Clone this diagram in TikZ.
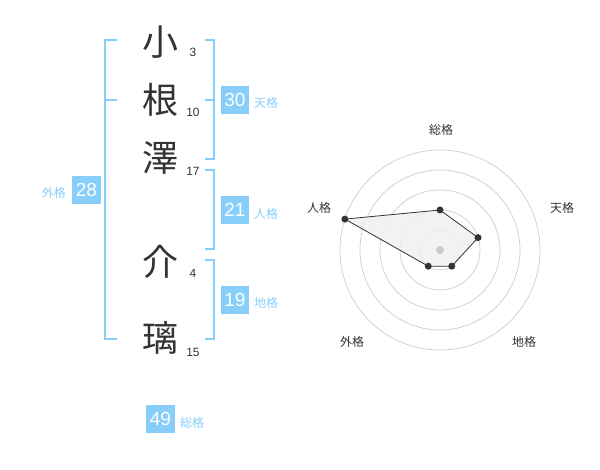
\documentclass[tikz,border=0pt]{standalone}
\usepackage{fontspec}
\setmainfont{Liberation Sans}
\newfontfamily\jp{Noto Sans CJK JP}
\usetikzlibrary{calc}
\definecolor{sky}{HTML}{87CEFA}
\definecolor{ink}{HTML}{333333}
\definecolor{ring}{HTML}{CCCCCC}
\definecolor{area}{HTML}{F0F0F0}
\begin{document}
\begin{tikzpicture}[x=1pt,y=-1pt,
  kanji/.style={font=\jp\fontsize{36}{36}\selectfont, text=ink, inner sep=0pt},
  stroke/.style={font=\fontsize{12}{12}\selectfont, text=ink, inner sep=0pt},
  numbox/.style={fill=sky, text=white, minimum width=28.5pt, minimum height=28.5pt, inner sep=0pt, font=\fontsize{19}{19}\selectfont},
  kaku/.style={font=\jp\fontsize{12}{12}\selectfont, text=sky, inner sep=0pt},
  bracket/.style={draw=sky, line width=2pt},
  rlabel/.style={font=\jp\fontsize{12}{12}\selectfont, text=ink, inner sep=0pt},
  dot/.style={circle, fill=ink, inner sep=0pt, minimum size=7pt}]
\useasboundingbox (0,0) rectangle (600,470);
% characters
\node[kanji] (k1) at (160,42) {小};
\node[kanji] (k2) at (160,100) {根};
\node[kanji] (k3) at (160,158) {澤};
\node[kanji] (k4) at (160,262) {介};
\node[kanji] (k5) at (160,338) {璃};
\node[stroke] (s1) at (193,52) {3};
\node[stroke] (s2) at (193,112) {10};
\node[stroke] (s3) at (193,171) {17};
\node[stroke] (s4) at (193,273) {4};
\node[stroke] (s5) at (193,352) {15};
% brackets
\draw[bracket] (117,40) -- (105,40) -- (105,339) -- (117,339);
\draw[bracket] (105,100) -- (117,100);
\draw[bracket] (205,40) -- (214,40) -- (214,159) -- (205,159);
\draw[bracket] (205,100) -- (214,100);
\draw[bracket] (205,170) -- (214,170) -- (214,249) -- (205,249);
\draw[bracket] (205,260) -- (214,260) -- (214,339) -- (205,339);
% boxes
\node[numbox] (ten) at (235,100) {30};
\node[kaku, anchor=west] (tenl) at (254,103) {天格};
\node[numbox] (jin) at (235,210) {21};
\node[kaku, anchor=west] (jinl) at (254,214) {人格};
\node[numbox] (chi) at (235,300) {19};
\node[kaku, anchor=west] (chil) at (254,303) {地格};
\node[numbox] (gai) at (86.5,190) {28};
\node[kaku, anchor=east] (gail) at (66,193) {外格};
\node[numbox] (sou) at (160.5,419) {49};
\node[kaku, anchor=west] (soul) at (180,423) {総格};
% radar
\coordinate (c) at (440,250);
\foreach \r in {20,40,60,80,100} \draw[ring, line width=0.7pt] (c) circle[radius=\r];
\coordinate (p1) at ($(c)+(-90:40)$);
\coordinate (p2) at ($(c)+(-18:40)$);
\coordinate (p3) at ($(c)+(54:20)$);
\coordinate (p4) at ($(c)+(126:20)$);
\coordinate (p5) at ($(c)+(-162:100)$);
\draw[ink, fill=area, fill opacity=0.85, line width=0.8pt] (p1) -- (p2) -- (p3) -- (p4) -- (p5) -- cycle;
\node[circle, fill=ring, inner sep=0pt, minimum size=8pt] (cd) at (c) {};
\foreach \i in {1,...,5} \node[dot] (d\i) at (p\i) {};
\node[rlabel] (r1) at (441,130) {総格};
\node[rlabel] (r2) at (562,208) {天格};
\node[rlabel] (r3) at (524,342) {地格};
\node[rlabel] (r4) at (352,342) {外格};
\node[rlabel] (r5) at (319,208) {人格};
\end{tikzpicture}
\end{document}
